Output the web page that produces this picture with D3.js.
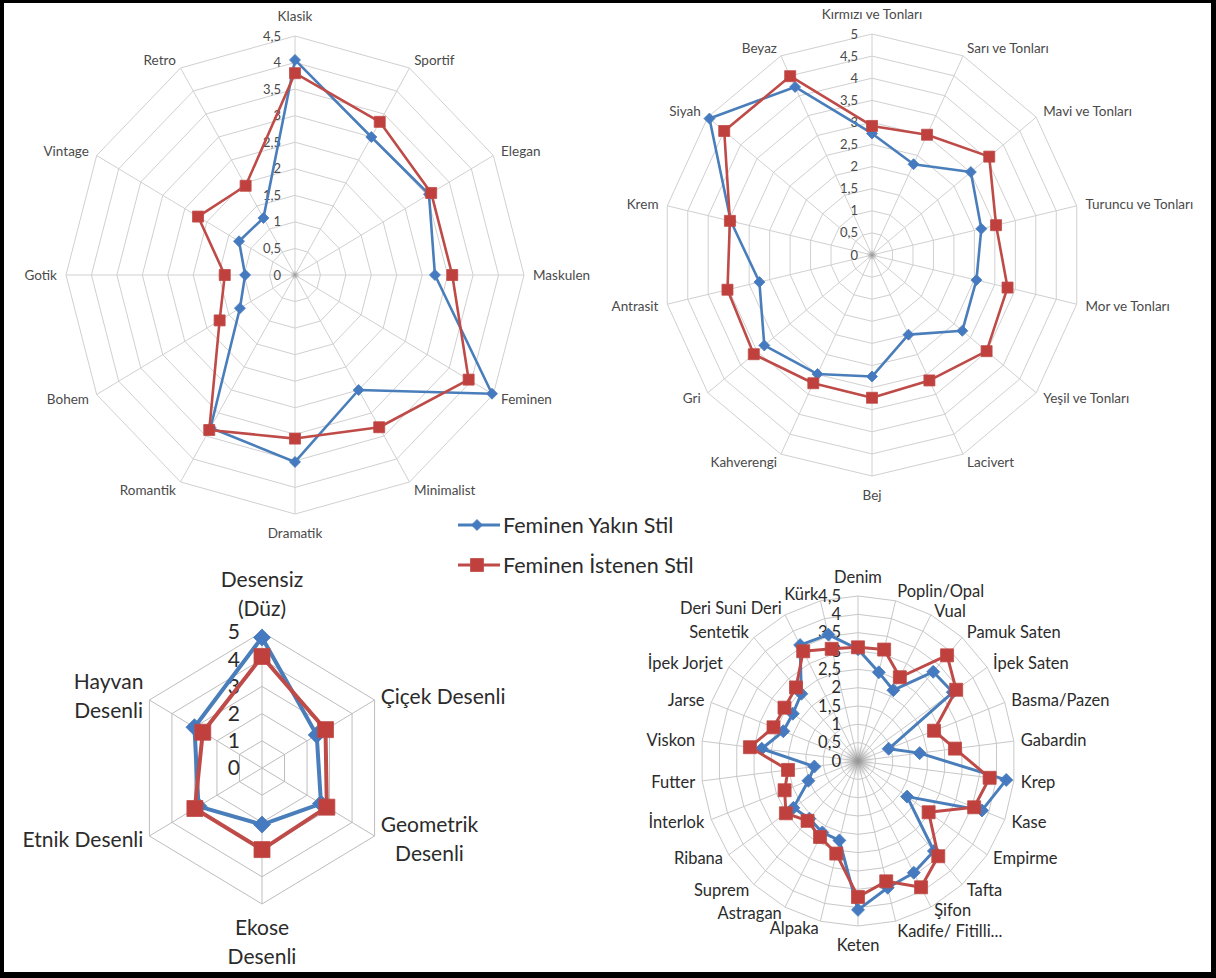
<!DOCTYPE html>
<html>
<head>
<meta charset="utf-8">
<script src="https://cdn.jsdelivr.net/npm/d3@7"></script>
<style>
  body { margin: 0; background: #fff; }
  svg { display: block; }
  text { font-family: Lato, "Open Sans", "Noto Sans", sans-serif; }
</style>
</head>
<body>
<svg id="chart" width="1216" height="978"></svg>
<script>
// ---- series ----
const seriesNames = ["Feminen Yakın Stil", "Feminen İstenen Stil"];

// style preferences
const styleCats = ["Klasik", "Sportif", "Elegan", "Maskulen", "Feminen", "Minimalist",
  "Dramatik", "Romantik", "Bohem", "Gotik", "Vintage", "Retro"];
const styleNear   = [4.05, 3.0, 3.04, 2.75, 4.47, 2.5, 3.52, 3.32, 1.25, 0.98, 1.27, 1.24];
const styleWanted = [3.8, 3.33, 3.09, 3.09, 3.94, 3.31, 3.08, 3.37, 1.71, 1.38, 2.2, 1.94];

// colour preferences
const colourCats = ["Kırmızı ve Tonları", "Sarı ve Tonları", "Mavi ve Tonları", "Turuncu ve Tonları",
  "Mor ve Tonları", "Yeşil ve Tonları", "Lacivert", "Bej", "Kahverengi", "Gri", "Antrasit",
  "Krem", "Siyah", "Beyaz"];
const colourNear   = [2.75, 2.28, 3.01, 2.67, 2.55, 2.75, 2.0, 2.75, 2.99, 3.28, 2.75, 3.45, 4.95, 4.22];
const colourWanted = [2.92, 3.02, 3.57, 3.03, 3.31, 3.49, 3.15, 3.23, 3.22, 3.6, 3.53, 3.47, 4.5, 4.49];

// pattern preferences
const patternCats = ["Desensiz\n(Düz)", "Çiçek Desenli", "Geometrik\nDesenli", "Ekose\nDesenli",
  "Etnik Desenli", "Hayvan\nDesenli"];
const patternNear   = [4.8, 2.43, 2.62, 2.08, 2.82, 3.0];
const patternWanted = [4.1, 2.82, 2.88, 3.0, 2.98, 2.63];

// fabric preferences
const fabricCats = ["Denim", "Poplin/Opal", "Vual", "Pamuk Saten", "İpek Saten", "Basma/Pazen",
  "Gabardin", "Krep", "Kase", "Empirme", "Tafta", "Şifon", "Kadife/ Fitilli...", "Keten",
  "Alpaka", "Astragan", "Suprem", "Ribana", "İnterlok", "Futter", "Viskon", "Jarse",
  "İpek Jorjet", "Sentetik", "Deri Suni Deri", "Kürk"];
const fabricNear   = [3.05, 2.49, 2.18, 3.25, 3.3, 0.94, 1.78, 4.28, 3.8, 1.71, 3.28, 3.44, 3.56,
  4.06, 2.23, 2.2, 2.1, 2.25, 1.52, 1.26, 2.78, 2.29, 2.27, 2.45, 3.57, 3.55];
const fabricWanted = [3.1, 3.13, 2.58, 3.85, 3.42, 2.33, 2.8, 3.8, 3.56, 2.46, 3.47, 3.89, 3.38,
  3.71, 2.6, 2.34, 2.18, 2.51, 2.25, 2.02, 3.12, 2.59, 2.56, 2.68, 3.38, 3.15];

// ---- drawing ----
const BLUE = "#4A7EBB", BLUE_M = "#4579C0";
const RED = "#BE4B48", RED_M = "#C0403D";
const svg = d3.select("#chart");
svg.append("rect").attr("width", 1216).attr("height", 978).attr("fill", "#fff");

// soft grey hub where many spokes meet
const defs = svg.append("defs");
const hub = defs.append("radialGradient").attr("id", "hub");
hub.append("stop").attr("offset", "0%").attr("stop-color", "#8a8a8a").attr("stop-opacity", 0.9);
hub.append("stop").attr("offset", "100%").attr("stop-color", "#bdbdbd").attr("stop-opacity", 0);

const fmt = v => d3.format(".1~f")(v).replace(".", ",");

function radar(o) {
  const g = svg.append("g");
  const n = o.cats.length;
  const r = d3.scaleLinear().domain([0, o.max]).range([0, 1]);
  const ang = d3.scaleLinear().domain([0, n]).range([0, 2 * Math.PI]);
  const pt = (i, v) => [o.cx + o.rx * r(v) * Math.sin(ang(i)),
                        o.cy - o.ry * r(v) * Math.cos(ang(i))];
  const idx = d3.range(n);
  const ringLine = d3.line().curve(d3.curveLinearClosed);

  // rings
  const levels = d3.range(o.step, o.max + 1e-9, o.step);
  g.append("g").selectAll("path").data(levels).join("path")
    .attr("d", v => ringLine(idx.map(i => pt(i, v))))
    .attr("fill", "none").attr("stroke", o.grid).attr("stroke-width", 1);

  // spokes
  g.append("g").selectAll("line").data(idx).join("line")
    .attr("x1", o.cx).attr("y1", o.cy)
    .attr("x2", i => pt(i, o.max)[0]).attr("y2", i => pt(i, o.max)[1])
    .attr("stroke", o.grid).attr("stroke-width", 1);

  if (o.hub) {
    g.append("circle").attr("cx", o.cx).attr("cy", o.cy).attr("r", o.hub)
      .attr("fill", "url(#hub)");
  }

  // value labels along the first axis
  g.append("g").selectAll("text").data(d3.range(0, o.max + 1e-9, o.step)).join("text")
    .attr("x", o.cx - o.tickDx).attr("y", v => pt(0, v)[1]).attr("dy", "0.35em")
    .attr("text-anchor", "end").attr("font-size", o.tickSize).attr("fill", o.textColor)
    .text(fmt);

  // category labels
  const lg = g.append("g");
  const nudge = o.nudge || {};
  idx.forEach(i => {
    const lines = o.cats[i].split("\n");
    const s = Math.sin(ang(i)), c = Math.cos(ang(i));
    const end = pt(i, o.max);
    const lab = lg.append("g");
    lines.forEach((t, k) => {
      lab.append("text").attr("x", 0)
        .attr("y", (k - (lines.length - 1) / 2) * o.lineH).attr("dy", "0.35em")
        .attr("text-anchor", "middle").attr("font-size", o.labelSize)
        .attr("fill", o.textColor).text(t);
    });
    const w = lab.node().getBBox().width;
    let x, y;
    if (Math.abs(s) < 0.05) {
      x = end[0];
      y = end[1] - Math.sign(c) * (o.gapV + lines.length * o.lineH / 2);
    } else {
      x = end[0] + o.gap * s + (s > 0 ? w / 2 : -w / 2);
      y = end[1] - o.gap * c;
    }
    y += nudge[i] || 0;
    lab.attr("transform", `translate(${x},${y})`);
  });

  // series
  const series = [
    { values: o.near, line: BLUE, fill: BLUE_M, shape: "diamond" },
    { values: o.wanted, line: RED, fill: RED_M, shape: "square" }
  ];
  series.forEach(sr => {
    const pts = sr.values.map((v, i) => pt(i, v));
    g.append("path").attr("d", ringLine(pts)).attr("fill", "none")
      .attr("stroke", sr.line).attr("stroke-width", o.lw).attr("stroke-linejoin", "round");
    const size = sr.shape === "diamond" ? o.diamond * o.diamond / 2 : o.square * o.square;
    g.append("g").selectAll("path").data(pts).join("path")
      .attr("d", d3.symbol(d3.symbolSquare, size))
      .attr("transform", p => `translate(${p[0]},${p[1]})` + (sr.shape === "diamond" ? " rotate(45)" : ""))
      .attr("fill", sr.fill).attr("stroke", sr.line).attr("stroke-width", 0.8);
  });
}

radar({ cats: styleCats, near: styleNear, wanted: styleWanted, max: 4.5, step: 0.5,
  cx: 295, cy: 275, rx: 229, ry: 239, grid: "#D0D0D0", tickDx: 14, tickSize: 13,
  labelSize: 13.5, lineH: 15, gap: 9, gapV: 12, textColor: "#4a4a4a",
  lw: 2.6, diamond: 11, square: 11, hub: 5 });

radar({ cats: colourCats, near: colourNear, wanted: colourWanted, max: 5, step: 0.5,
  cx: 872, cy: 255, rx: 210, ry: 221, grid: "#D0D0D0", tickDx: 14, tickSize: 13,
  labelSize: 13.5, lineH: 15, gap: 9, gapV: 12, textColor: "#4a4a4a",
  lw: 2.6, diamond: 11, square: 11, hub: 6 });

radar({ cats: patternCats, near: patternNear, wanted: patternWanted, max: 5, step: 1,
  cx: 262, cy: 768, rx: 130, ry: 136, grid: "#BDBDBD", tickDx: 22, tickSize: 21,
  labelSize: 21, lineH: 29, gap: 7, gapV: 9, textColor: "#2b2b2b",
  lw: 4, diamond: 17, square: 16 });

// neighbouring labels pulled slightly apart so they do not collide
radar({ cats: fabricCats, near: fabricNear, wanted: fabricWanted, max: 4.5, step: 0.5,
  cx: 858, cy: 761, rx: 157, ry: 165, grid: "#C8C8C8", tickDx: 17, tickSize: 16.5,
  labelSize: 16.5, lineH: 18, gap: 7, gapV: 10, textColor: "#2b2b2b",
  lw: 3, diamond: 13, square: 13, hub: 16, nudge: { 1: -3, 2: 3, 11: -3, 12: 3 } });

// legend
const legend = svg.append("g");
[{ name: seriesNames[0], y: 525, line: BLUE, fill: BLUE_M, shape: "diamond", size: 11 },
 { name: seriesNames[1], y: 565, line: RED, fill: RED_M, shape: "square", size: 13 }].forEach(d => {
  legend.append("line").attr("x1", 458).attr("x2", 500).attr("y1", d.y).attr("y2", d.y)
    .attr("stroke", d.line).attr("stroke-width", 3);
  legend.append("path")
    .attr("d", d3.symbol(d3.symbolSquare, d.shape === "diamond" ? d.size * d.size / 2 : d.size * d.size))
    .attr("transform", `translate(477,${d.y})` + (d.shape === "diamond" ? " rotate(45)" : ""))
    .attr("fill", d.fill).attr("stroke", d.line).attr("stroke-width", 0.8);
  legend.append("text").attr("x", 503).attr("y", d.y).attr("dy", "0.35em")
    .attr("font-size", 21.5).attr("fill", "#2b2b2b").text(d.name);
});

// frame
const frame = svg.append("g").attr("fill", "#000");
frame.append("rect").attr("x", 0).attr("y", 0).attr("width", 1216).attr("height", 3);
frame.append("rect").attr("x", 0).attr("y", 0).attr("width", 4).attr("height", 978);
frame.append("rect").attr("x", 1211).attr("y", 0).attr("width", 5).attr("height", 978);
frame.append("rect").attr("x", 0).attr("y", 972).attr("width", 1216).attr("height", 6);
</script>
</body>
</html>
